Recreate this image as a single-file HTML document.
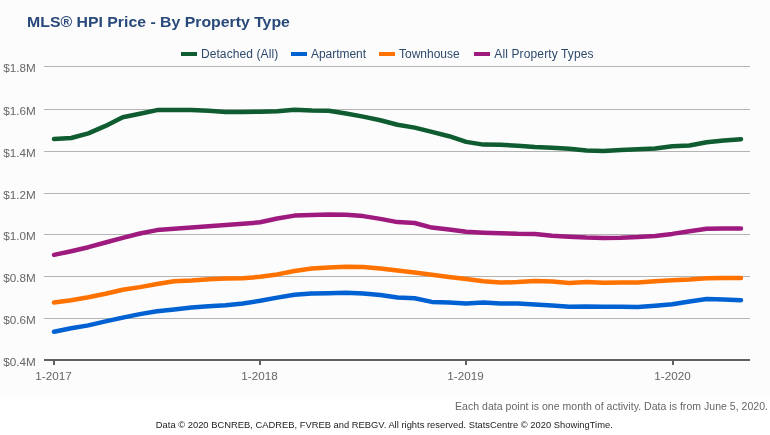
<!DOCTYPE html>
<html><head><meta charset="utf-8"><style>
html,body{margin:0;padding:0;background:#fdfdfd;}
svg{display:block;will-change:transform;font-family:"Liberation Sans",sans-serif;}
</style></head><body>
<svg width="770" height="435" viewBox="0 0 770 435">
<rect width="770" height="435" fill="#ffffff"/><rect width="770" height="399" fill="#fcfcfc"/>
<text x="27.1" y="26.5" font-size="15.2" font-weight="bold" fill="#28497a" textLength="262.8" lengthAdjust="spacingAndGlyphs">MLS® HPI Price - By Property Type</text>
<rect x="181" y="52" width="16" height="4" fill="#0e5c30"/>
<text x="200.9" y="57.7" font-size="12" fill="#2d4a6d" textLength="77.3" lengthAdjust="spacing">Detached (All)</text>
<rect x="291" y="52" width="16" height="4" fill="#0062d2"/>
<text x="311" y="57.7" font-size="12" fill="#2d4a6d" textLength="55" lengthAdjust="spacing">Apartment</text>
<rect x="379" y="52" width="16" height="4" fill="#ff7200"/>
<text x="399" y="57.7" font-size="12" fill="#2d4a6d" textLength="60.7" lengthAdjust="spacing">Townhouse</text>
<rect x="474" y="52" width="16" height="4" fill="#9e1a7e"/>
<text x="494.3" y="57.7" font-size="12" fill="#2d4a6d" textLength="99.3" lengthAdjust="spacing">All Property Types</text>
<line x1="44" y1="66.5" x2="750" y2="66.5" stroke="#b4b4b4" stroke-width="1"/>
<text x="35.8" y="72.3" font-size="11.7" fill="#666" text-anchor="end">$1.8M</text>
<line x1="44" y1="109.5" x2="750" y2="109.5" stroke="#b4b4b4" stroke-width="1"/>
<text x="35.8" y="115.3" font-size="11.7" fill="#666" text-anchor="end">$1.6M</text>
<line x1="44" y1="151.5" x2="750" y2="151.5" stroke="#b4b4b4" stroke-width="1"/>
<text x="35.8" y="157.3" font-size="11.7" fill="#666" text-anchor="end">$1.4M</text>
<line x1="44" y1="193.5" x2="750" y2="193.5" stroke="#b4b4b4" stroke-width="1"/>
<text x="35.8" y="199.3" font-size="11.7" fill="#666" text-anchor="end">$1.2M</text>
<line x1="44" y1="234.5" x2="750" y2="234.5" stroke="#b4b4b4" stroke-width="1"/>
<text x="35.8" y="240.3" font-size="11.7" fill="#666" text-anchor="end">$1.0M</text>
<line x1="44" y1="276.5" x2="750" y2="276.5" stroke="#b4b4b4" stroke-width="1"/>
<text x="35.8" y="282.3" font-size="11.7" fill="#666" text-anchor="end">$0.8M</text>
<line x1="44" y1="318.5" x2="750" y2="318.5" stroke="#b4b4b4" stroke-width="1"/>
<text x="35.8" y="324.3" font-size="11.7" fill="#666" text-anchor="end">$0.6M</text>
<text x="35.8" y="365.8" font-size="11.7" fill="#666" text-anchor="end">$0.4M</text>
<polyline points="54.00,139.00 71.17,138.00 88.35,133.40 105.53,125.90 122.70,117.20 139.88,113.80 157.05,110.10 174.23,109.90 191.40,110.00 208.58,110.80 225.75,111.90 242.93,111.90 260.10,111.80 277.27,111.20 294.45,109.80 311.62,110.50 328.80,110.80 345.98,113.50 363.15,116.60 380.32,120.30 397.50,124.80 414.68,127.60 431.85,131.90 449.03,136.20 466.20,141.90 483.38,144.60 500.55,144.70 517.73,145.80 534.90,147.10 552.08,147.80 569.25,148.70 586.43,150.60 603.60,151.10 620.77,149.90 637.95,149.20 655.12,148.50 672.30,146.20 689.48,145.50 706.65,142.20 723.83,140.50 741.00,139.20" fill="none" stroke="#0e5c30" stroke-width="4.5" stroke-linejoin="round" stroke-linecap="round"/>
<polyline points="54.00,254.90 71.17,251.20 88.35,247.20 105.53,242.50 122.70,237.80 139.88,233.50 157.05,230.10 174.23,228.80 191.40,227.60 208.58,226.30 225.75,225.00 242.93,223.80 260.10,222.30 277.27,218.50 294.45,215.60 311.62,214.90 328.80,214.40 345.98,214.70 363.15,216.10 380.32,218.90 397.50,222.10 414.68,223.00 431.85,227.60 449.03,229.40 466.20,231.80 483.38,232.70 500.55,233.30 517.73,233.80 534.90,233.90 552.08,235.80 569.25,236.80 586.43,237.60 603.60,237.90 620.77,237.80 637.95,237.10 655.12,235.90 672.30,233.90 689.48,231.30 706.65,228.70 723.83,228.50 741.00,228.50" fill="none" stroke="#9e1a7e" stroke-width="4.5" stroke-linejoin="round" stroke-linecap="round"/>
<polyline points="54.00,302.40 71.17,300.30 88.35,297.20 105.53,293.70 122.70,289.80 139.88,287.10 157.05,284.00 174.23,281.20 191.40,280.50 208.58,279.30 225.75,278.50 242.93,278.20 260.10,276.80 277.27,274.40 294.45,271.00 311.62,268.60 328.80,267.40 345.98,266.70 363.15,266.90 380.32,268.50 397.50,270.60 414.68,272.60 431.85,274.70 449.03,277.10 466.20,278.90 483.38,281.20 500.55,282.60 517.73,282.10 534.90,280.90 552.08,281.50 569.25,283.00 586.43,282.10 603.60,282.80 620.77,282.60 637.95,282.40 655.12,281.30 672.30,280.20 689.48,279.50 706.65,278.20 723.83,278.00 741.00,278.00" fill="none" stroke="#ff7200" stroke-width="4.5" stroke-linejoin="round" stroke-linecap="round"/>
<polyline points="54.00,331.80 71.17,328.30 88.35,325.40 105.53,321.40 122.70,317.60 139.88,314.10 157.05,311.20 174.23,309.40 191.40,307.40 208.58,306.20 225.75,305.30 242.93,303.50 260.10,300.80 277.27,297.60 294.45,294.80 311.62,293.50 328.80,293.20 345.98,292.80 363.15,293.40 380.32,295.10 397.50,297.60 414.68,298.20 431.85,301.90 449.03,302.60 466.20,303.50 483.38,302.60 500.55,303.50 517.73,303.50 534.90,304.40 552.08,305.60 569.25,306.80 586.43,306.50 603.60,306.80 620.77,306.70 637.95,307.10 655.12,305.70 672.30,304.30 689.48,301.50 706.65,299.10 723.83,299.50 741.00,300.20" fill="none" stroke="#0062d2" stroke-width="4.5" stroke-linejoin="round" stroke-linecap="round"/>
<rect x="44" y="359" width="706" height="2" fill="#606060"/>
<rect x="53" y="361" width="2" height="4" fill="#606060"/>
<text x="53.5" y="380" font-size="11.7" fill="#666" text-anchor="middle">1-2017</text>
<rect x="259" y="361" width="2" height="4" fill="#606060"/>
<text x="259.5" y="380" font-size="11.7" fill="#666" text-anchor="middle">1-2018</text>
<rect x="465" y="361" width="2" height="4" fill="#606060"/>
<text x="465.5" y="380" font-size="11.7" fill="#666" text-anchor="middle">1-2019</text>
<rect x="672" y="361" width="2" height="4" fill="#606060"/>
<text x="672.5" y="380" font-size="11.7" fill="#666" text-anchor="middle">1-2020</text>
<text x="455" y="409.5" font-size="10.5" fill="#666" textLength="313" lengthAdjust="spacing">Each data point is one month of activity. Data is from June 5, 2020.</text>
<text x="155.8" y="428" font-size="9.35" fill="#222" textLength="457" lengthAdjust="spacing">Data © 2020 BCNREB, CADREB, FVREB and REBGV. All rights reserved. StatsCentre © 2020 ShowingTime.</text>
</svg>
</body></html>
